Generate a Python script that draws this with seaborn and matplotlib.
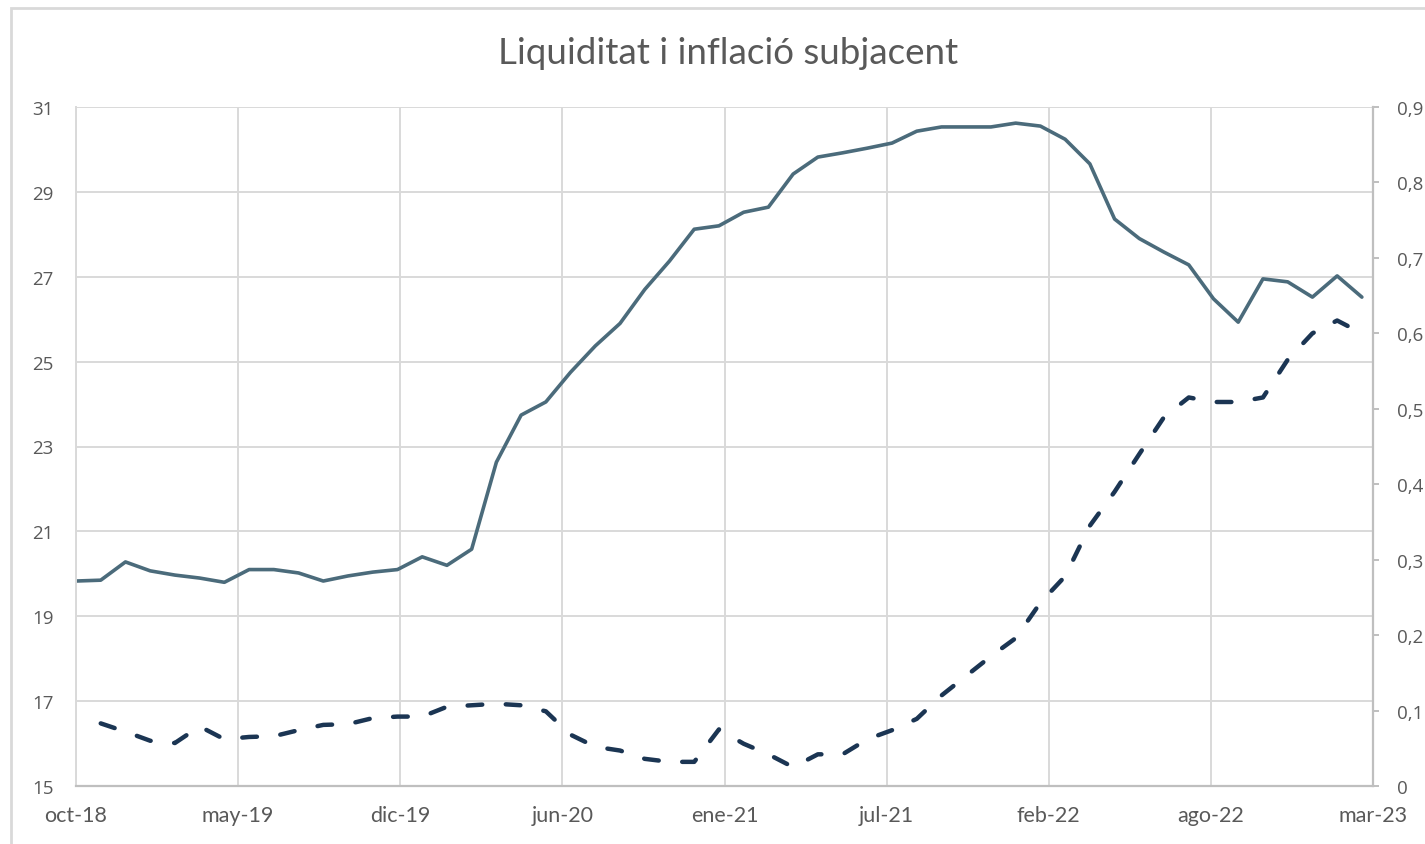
import matplotlib.pyplot as plt
import numpy as np
import pandas as pd
import seaborn as sns
from matplotlib.patches import Rectangle

TITLE = "Liquiditat i inflació subjacent"
X_TICK_LABELS = ["oct-18", "may-19", "dic-19", "jun-20", "ene-21",
                 "jul-21", "feb-22", "ago-22", "mar-23"]
LEFT_TICKS = [15, 17, 19, 21, 23, 25, 27, 29, 31]
RIGHT_TICKS = [0, 0.1, 0.2, 0.3, 0.4, 0.5, 0.6, 0.7, 0.8, 0.9]
RIGHT_TICK_LABELS = ["0", "0,1", "0,2", "0,3", "0,4", "0,5", "0,6", "0,7", "0,8", "0,9"]

# monthly values, oct-18 .. feb-23 (left axis)
liquidity = [
    19.83, 19.85, 20.28, 20.07, 19.97, 19.90, 19.80, 20.10, 20.10, 20.02,
    19.83, 19.95, 20.04, 20.10, 20.40, 20.20, 20.58, 22.63, 23.74, 24.05,
    24.75, 25.37, 25.90, 26.70, 27.37, 28.12, 28.20, 28.52, 28.64, 29.42,
    29.82, 29.92, 30.03, 30.15, 30.43, 30.53, 30.53, 30.53, 30.62, 30.55,
    30.24, 29.66, 28.36, 27.90, 27.58, 27.28, 26.48, 25.93, 26.95, 26.88,
    26.52, 27.02, 26.52,
]

# monthly values, nov-18 .. feb-23 (right axis)
core_inflation = [
    0.083, 0.072, 0.060, 0.057, 0.079, 0.062, 0.065, 0.066, 0.074, 0.081,
    0.082, 0.090, 0.092, 0.092, 0.105, 0.107, 0.109, 0.107, 0.099, 0.068,
    0.052, 0.047, 0.036, 0.032, 0.032, 0.075, 0.056, 0.042, 0.025, 0.042,
    0.042, 0.062, 0.074, 0.089, 0.120, 0.146, 0.172, 0.196, 0.243, 0.278,
    0.345, 0.390, 0.440, 0.489, 0.515, 0.509, 0.509, 0.515, 0.565, 0.600,
    0.617, 0.600,
]

GRID = "#D9D9D9"
AXIS = "#BFBFBF"
TEXT = "#595959"
SOLID = "#4B6B7B"
DASHED = "#1B3553"
Y_FONT = "Open Sans"


def main():
    sns.set_theme(style="white")
    plt.rcParams["font.family"] = ["Lato", "DejaVu Sans"]

    df_liq = pd.DataFrame({"mes": np.arange(len(liquidity)), "liquiditat": liquidity})
    df_inf = pd.DataFrame({"mes": np.arange(1, len(core_inflation) + 1),
                           "inflacio": core_inflation})

    fig = plt.figure(figsize=(14.25, 8.45), dpi=100)
    ax = fig.add_axes([76 / 1425, 1 - 787 / 845, (1373 - 76) / 1425, (787 - 108) / 845])
    ax2 = ax.twinx()

    sns.lineplot(data=df_liq, x="mes", y="liquiditat", ax=ax, color=SOLID,
                 linewidth=2.6, solid_capstyle="round", solid_joinstyle="round")
    sns.lineplot(data=df_inf, x="mes", y="inflacio", ax=ax2, color=DASHED,
                 linewidth=3.2, linestyle=(0, (3.3, 5.3)), dash_capstyle="round",
                 dash_joinstyle="round")

    x_end = 52.45
    ax.set_xlim(0, x_end)
    ax.set_xticks(np.linspace(0, x_end, len(X_TICK_LABELS)))
    ax.set_xticklabels(X_TICK_LABELS)
    ax.set_ylim(15, 31)
    ax2.set_ylim(0, 0.9)

    ax.grid(True, color=GRID, linewidth=1.4)
    ax2.grid(False)
    ax.set_axisbelow(True)

    for a in (ax, ax2):
        a.set_xlabel("")
        a.set_ylabel("")
        for s in a.spines.values():
            s.set_visible(False)
    ax.spines["left"].set_visible(True)
    ax.spines["left"].set_color(GRID)
    ax.spines["left"].set_linewidth(1.4)
    ax.spines["bottom"].set_visible(True)
    ax.spines["bottom"].set_color(AXIS)
    ax.spines["bottom"].set_linewidth(1.6)
    ax2.spines["right"].set_visible(True)
    ax2.spines["right"].set_color(AXIS)
    ax2.spines["right"].set_linewidth(1.6)

    ax.tick_params(axis="x", length=0, pad=14, labelsize=15.5, labelcolor=TEXT)
    ax.tick_params(axis="y", length=0, pad=16, labelcolor=TEXT)
    ax2.tick_params(axis="y", length=4.5, width=1.4, color=AXIS, pad=12.5,
                    labelcolor=TEXT)

    ax.set_yticks(LEFT_TICKS)
    ax.set_yticklabels([str(v) for v in LEFT_TICKS], family=Y_FONT, size=13.5)
    ax2.set_yticks(RIGHT_TICKS)
    ax2.set_yticklabels(RIGHT_TICK_LABELS, family=Y_FONT, size=13.5)

    fig.text(0.511, 1 - 54 / 845, TITLE, ha="center", va="center",
             fontsize=26.5, color=TEXT)

    fig.patches.append(Rectangle((11 / 1425, -0.1), 1.2, 1.1 - 9 / 845,
                                 transform=fig.transFigure, fill=False,
                                 edgecolor=GRID, linewidth=2))

    fig.savefig("out.png", dpi=100)
    plt.close(fig)


if __name__ == "__main__":
    main()
